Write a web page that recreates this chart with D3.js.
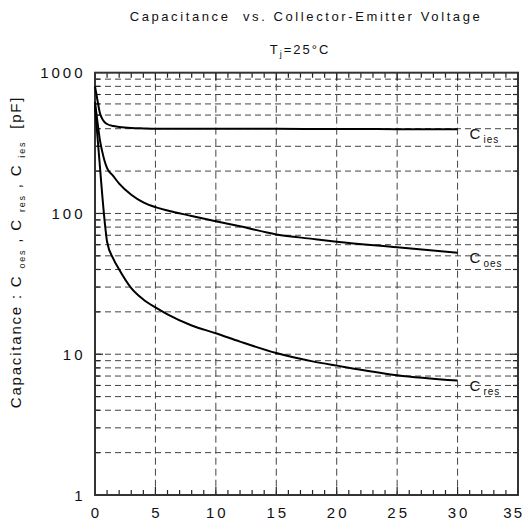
<!DOCTYPE html>
<html><head><meta charset="utf-8">
<script src="https://cdn.jsdelivr.net/npm/d3@7"></script>
<style>
body{margin:0;background:#fff;}
text{font-family:"Liberation Sans",Arial,sans-serif;fill:#111;}
</style></head>
<body><svg id="c" width="525" height="524"></svg>
<script>
// Data
const vce  = [0, 0.2, 0.4, 0.6, 0.8, 1, 1.5, 2, 3, 4, 5, 6, 8, 10, 12, 15, 18, 20, 25, 30];
const cies = [800, 640, 520, 470, 445, 432, 418, 412, 405, 402, 400, 400, 400, 400, 400, 399, 398, 398, 397, 396];
const coes = [620, 450, 335, 275, 235, 210, 185, 163, 136, 120, 111, 105, 96, 88, 81, 71, 66, 63, 57.5, 52.5];
const cres = [580, 355, 219, 135, 88, 63, 48, 40, 29.5, 24.5, 21.5, 19.2, 16, 14.1, 12.3, 10.2, 8.9, 8.3, 7.1, 6.5];
const xTicks = [0, 5, 10, 15, 20, 25, 30, 35];
const yTicks = [1, 10, 100, 1000];
const seriesNames = [["C","ies"],["C","oes"],["C","res"]];

const svg = d3.select("#c");
const L = 95, R = 518, T = 72.7, B = 495;
const x = d3.scaleLinear().domain([0, 35]).range([L, R]);
const y = d3.scaleLog().domain([1, 1000]).range([B, T]);

// grid: horizontal minor + major
const hVals = [];
for (let d = 1; d < 1000; d *= 10) for (let k = 1; k <= 9; k++) { const v = d * k; if (v > 1 && v < 1000) hVals.push(v); }
svg.append("g").selectAll("line").data(hVals).join("line")
  .attr("x1", L).attr("x2", R).attr("y1", d => y(d)).attr("y2", d => y(d))
  .attr("stroke", "#444").attr("stroke-width", 1).attr("stroke-dasharray", "6,4");
svg.append("g").selectAll("line").data(xTicks.filter(d => d > 0 && d < 35)).join("line")
  .attr("x1", d => x(d)).attr("x2", d => x(d)).attr("y1", T).attr("y2", B)
  .attr("stroke", "#444").attr("stroke-width", 1).attr("stroke-dasharray", "7,4");

// ticks inward
const g = svg.append("g").attr("stroke", "#222").attr("stroke-width", 1.2);
d3.range(1, 35).forEach(v => {
  const len = v % 5 === 0 ? 8 : 5;
  g.append("line").attr("x1", x(v)).attr("x2", x(v)).attr("y1", B).attr("y2", B - len);
  g.append("line").attr("x1", x(v)).attr("x2", x(v)).attr("y1", T).attr("y2", T + len);
});
hVals.forEach(v => {
  const len = (Math.log10(v) % 1 === 0) ? 8 : 5;
  g.append("line").attr("x1", L).attr("x2", L + len).attr("y1", y(v)).attr("y2", y(v));
  g.append("line").attr("x1", R).attr("x2", R - len).attr("y1", y(v)).attr("y2", y(v));
});

// frame
svg.append("rect").attr("x", L).attr("y", T).attr("width", R - L).attr("height", B - T)
  .attr("fill", "none").attr("stroke", "#333").attr("stroke-width", 2);

// axis labels
svg.append("g").selectAll("text").data(xTicks).join("text")
  .attr("x", d => d === 35 ? 524 : x(d) + 1.5).attr("y", 518)
  .attr("text-anchor", d => d === 35 ? "end" : "middle")
  .style("font-size", "15px").style("letter-spacing", d => d === 35 ? "2px" : "3px")
  .text(d => d);
svg.append("g").selectAll("text").data(yTicks).join("text")
  .attr("x", 85.5).attr("y", d => y(d) + 5.5).attr("text-anchor", "end")
  .style("font-size", "15px").style("letter-spacing", "3px").text(d => d);

// curves
const line = d3.line().x(d => x(d[0])).y(d => y(d[1])).curve(d3.curveMonotoneX);
[cies, coes, cres].forEach(s => {
  svg.append("path").datum(vce.map((v, i) => [v, s[i]])).attr("d", line)
    .attr("fill", "none").attr("stroke", "#000").attr("stroke-width", 2);
});

// series labels
[cies, coes, cres].forEach((s, i) => {
  const last = s[s.length - 1];
  const t = svg.append("text").attr("x", x(30) + 12).attr("y", y(last) + 10)
    .style("font-size", "15px").style("letter-spacing", "1px");
  t.append("tspan").text(seriesNames[i][0]);
  t.append("tspan").attr("dx", 2).attr("dy", 4).style("font-size", "10px").text(seriesNames[i][1]);
});

// titles
svg.append("text").attr("x", 306).attr("y", 21).attr("text-anchor", "middle")
  .style("font-size", "13px").style("letter-spacing", "2.6px")
  .attr("xml:space", "preserve")
  .text("Capacitance  vs. Collector-Emitter Voltage");
const st = svg.append("text").attr("x", 300).attr("y", 54).attr("text-anchor", "middle")
  .style("font-size", "13px").style("letter-spacing", "2px");
st.append("tspan").text("T");
st.append("tspan").attr("dy", 3).style("font-size", "9px").text("j");
st.append("tspan").attr("dy", -3).text("=25°C");

// y label
const yl = svg.append("text").attr("transform", "translate(21,252) rotate(-90)")
  .attr("text-anchor", "middle").style("font-size", "15px").style("letter-spacing", "1.8px")
  .attr("xml:space", "preserve");
const parts = [["Capacitance : C ", 0], ["oes", 1], [" , C ", 0], ["res", 1], [" , C ", 0], ["ies", 1], ["  [pF]", 0]];
let prev = 0;
parts.forEach(([txt, sub]) => {
  const dy = sub ? 4 : 0;
  yl.append("tspan").attr("dy", dy - prev).style("font-size", sub ? "9px" : "15px").text(txt);
  prev = dy;
});
</script></body></html>
